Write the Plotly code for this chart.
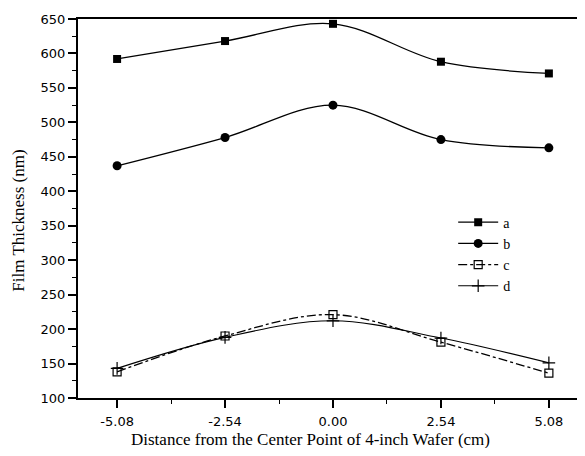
import plotly.graph_objects as go

x_pos = [-5.08, -2.54, 0.00, 2.54, 5.08]
tick_labels = ["-5.08", "-2.54", "0.00", "2.54", "5.08"]
series_a = [592, 618, 643, 588, 571]
series_b = [437, 478, 525, 475, 463]
series_c = [138, 190, 221, 181, 136]
series_d = [143, 188, 212, 187, 151]
y_ticks = [100, 150, 200, 250, 300, 350, 400, 450, 500, 550, 600, 650]
x_title = "Distance from the Center Point of 4-inch Wafer (cm)"
y_title = "Film Thickness (nm)"

fig = go.Figure()
fig.add_trace(go.Scatter(x=x_pos, y=series_a, name="a", mode="lines+markers",
                         line=dict(color="black", width=1.3, shape="spline", smoothing=1),
                         marker=dict(symbol="square", size=8, color="black")))
fig.add_trace(go.Scatter(x=x_pos, y=series_b, name="b", mode="lines+markers",
                         line=dict(color="black", width=1.3, shape="spline", smoothing=1),
                         marker=dict(symbol="circle", size=9, color="black")))
fig.add_trace(go.Scatter(x=x_pos, y=series_c, name="c", mode="lines+markers",
                         line=dict(color="black", width=1.3, shape="spline", smoothing=1, dash="dashdot"),
                         marker=dict(symbol="square-open", size=8, color="black", line=dict(width=1.2))))
fig.add_trace(go.Scatter(x=x_pos, y=series_d, name="d", mode="lines+markers",
                         line=dict(color="black", width=1.1, shape="spline", smoothing=1),
                         marker=dict(symbol="cross-thin-open", size=9, color="black", line=dict(width=1.2, color="black"))))

# The page body has an 8px default margin; the figure is sized to fit inside the window.
fig.update_layout(
    width=577, height=440,
    margin=dict(l=70, r=0, t=11, b=50),
    paper_bgcolor="white", plot_bgcolor="white",
    font=dict(family="Liberation Sans", color="black"),
    showlegend=True,
    legend=dict(x=0.74, y=0.505, xanchor="left", yanchor="top",
                font=dict(family="Liberation Serif", size=14, color="black"),
                bgcolor="rgba(0,0,0,0)", tracegroupgap=0, itemwidth=40),
    annotations=[
        dict(text=x_title, xref="paper", yref="paper", x=0.4576, y=-0.1082,
             xanchor="center", yanchor="middle", showarrow=False,
             font=dict(family="Liberation Serif", size=17, color="black")),
        dict(text=y_title, xref="paper", yref="paper", x=-0.119, y=0.467,
             xanchor="center", yanchor="middle", showarrow=False, textangle=-90,
             font=dict(family="Liberation Serif", size=17, color="black")),
    ],
)
fig.update_xaxes(
    range=[-6.0, 5.93], tickmode="array", tickvals=x_pos, ticktext=tick_labels,
    showgrid=False, zeroline=False, showline=True, linecolor="black", linewidth=2,
    mirror=True, ticks="outside", ticklen=8, tickwidth=1.5, tickcolor="black",
    ticklabelstandoff=2,
    minor=dict(tick0=-5.08, dtick=1.27, ticks="outside", ticklen=4, tickcolor="black", tickwidth=1.2),
    tickfont=dict(family="DejaVu Sans", size=13, color="black"),
)
fig.update_yaxes(
    range=[100, 650], tickmode="array", tickvals=y_ticks,
    showgrid=False, zeroline=False, showline=True, linecolor="black", linewidth=2,
    ticks="outside", ticklen=8, tickwidth=1.5, tickcolor="black",
    minor=dict(tick0=100, dtick=25, ticks="outside", ticklen=4, tickcolor="black", tickwidth=1.2),
    tickfont=dict(family="DejaVu Sans", size=13, color="black"),
)
fig.write_html("out.html")
